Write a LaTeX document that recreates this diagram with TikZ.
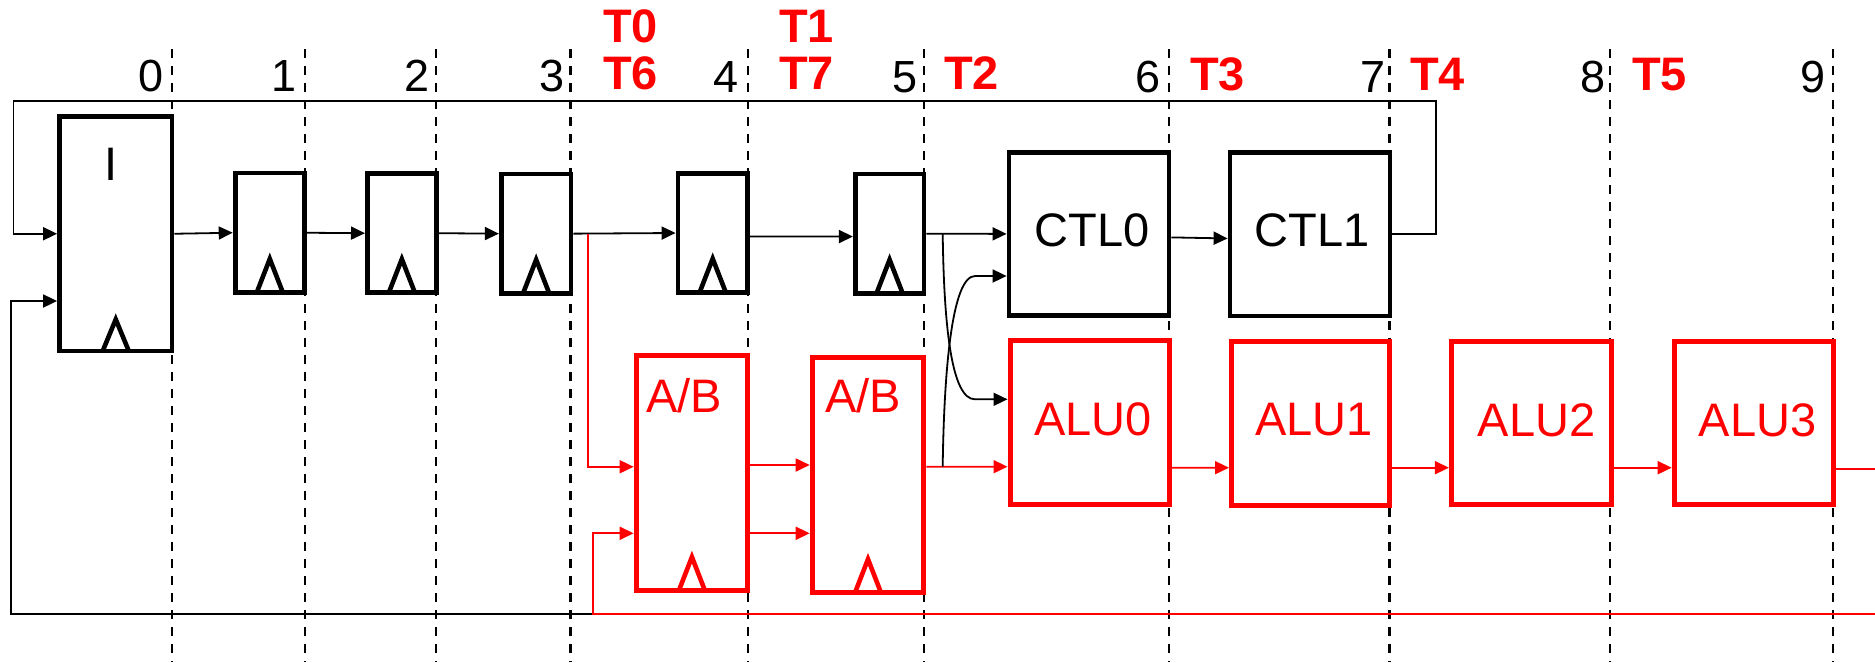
\documentclass[tikz,border=0pt]{standalone}
\usepackage{fontspec}
\setmainfont{Liberation Sans}
\usetikzlibrary{arrows.meta}
\definecolor{rd}{RGB}{255,0,0}
\begin{document}
\begin{tikzpicture}[x=1pt,y=-1pt,
  box/.style={draw=black, line width=4.8pt, rectangle, inner sep=0pt},
  rbox/.style={box, draw=rd, line width=5pt},
  wire/.style={line width=1.8pt},
  arr/.style={wire, -{Triangle[length=14pt,width=13pt]}},
  rarr/.style={arr, draw=rd},
  dsh/.style={line width=2.2pt, dash pattern=on 9pt off 8pt},
  clk/.style={line width=4.6pt, line join=miter},
  num/.style={font=\fontsize{45}{54}\selectfont, anchor=base east, inner sep=0pt},
  tlab/.style={font=\bfseries\fontsize{47}{56}\selectfont, text=rd, anchor=base west, inner sep=0pt},
  lbl/.style={font=\fontsize{47}{56}\selectfont, anchor=base, inner sep=0pt},
  rlbl/.style={lbl, text=rd}]
\useasboundingbox (0,0) rectangle (1875,662);

% dashed cycle boundaries
\foreach \x in {172,305,436,570.5,748,924,1169,1389.5,1610,1833}
  \draw[dsh] (\x,49) -- (\x,662);

% cycle numbers
\node[num] (n0) at (163.5,91.5) {0};
\node[num] (n1) at (297,91.5) {1};
\node[num] (n2) at (429.5,91.5) {2};
\node[num] (n3) at (564.6,91.5) {3};
\node[num] (n4) at (739,92) {4};
\node[num] (n5) at (918,92) {5};
\node[num] (n6) at (1161,92) {6};
\node[num] (n7) at (1385.5,92) {7};
\node[num] (n8) at (1606,92) {8};
\node[num] (n9) at (1826,92) {9};

% thread labels
\node[tlab] (t0) at (603,42.7) {T0};
\node[tlab] (t6) at (603,89.3) {T6};
\node[tlab] (t1) at (779,42.7) {T1};
\node[tlab] (t7) at (779,89.3) {T7};
\node[tlab] (t2) at (944,89.3) {T2};
\node[tlab] (t3) at (1190,90) {T3};
\node[tlab] (t4) at (1410,90) {T4};
\node[tlab] (t5) at (1632,90) {T5};

% black boxes
\node[box, minimum width=112.5pt, minimum height=234.5pt] (I) at (115.75,233.75) {};
\node[box, minimum width=69.4pt, minimum height=119.5pt] (R1) at (269.8,232.75) {};
\node[box, minimum width=68.9pt, minimum height=119pt] (R2) at (401.85,233.2) {};
\node[box, minimum width=69.7pt, minimum height=119.3pt] (R3) at (536.15,233.65) {};
\node[box, minimum width=69.4pt, minimum height=118.6pt] (R4) at (712.7,233) {};
\node[box, minimum width=68.6pt, minimum height=119.3pt] (R5) at (889.6,233.65) {};
\node[box, minimum width=160pt, minimum height=163.2pt] (CTL0) at (1089,233.9) {};
\node[box, minimum width=160pt, minimum height=163.7pt] (CTL1) at (1310,234.15) {};

% red boxes
\node[rbox, minimum width=111.5pt, minimum height=235.5pt] (AB1) at (691.9,472.75) {};
\node[rbox, minimum width=111.6pt, minimum height=235.4pt] (AB2) at (868,475) {};
\node[rbox, minimum width=159pt, minimum height=163.3pt] (ALU0) at (1089.5,422.35) {};
\node[rbox, minimum width=158pt, minimum height=164pt] (ALU1) at (1310.5,423) {};
\node[rbox, minimum width=159.6pt, minimum height=163pt] (ALU2) at (1531.2,422.8) {};
\node[rbox, minimum width=158.8pt, minimum height=162.5pt] (ALU3) at (1753.6,422.75) {};

% box labels
\node[lbl] (lI) at (111,180) {I};
\node[lbl] (lC0) at (1092,246) {CTL0};
\node[lbl] (lC1) at (1312,246.5) {CTL1};
\node[rlbl, anchor=base west] (lAB1) at (646,412.7) {A/B};
\node[rlbl, anchor=base west] (lAB2) at (825,412.7) {A/B};
\node[rlbl] (lA0) at (1093,435) {ALU0};
\node[rlbl] (lA1) at (1314,435) {ALU1};
\node[rlbl] (lA2) at (1536.6,436) {ALU2};
\node[rlbl] (lA3) at (1757.5,436) {ALU3};

% clock triangles
\foreach \n in {R1,R2,R3,R4,R5}
  \draw[clk, shift={(\n.south)}] (-13,-2.5) -- (0,-36) -- (13,-2.5);
\draw[clk, shift={(I.south)}] (-13,-2.5) -- (0,-34) -- (13,-2.5);
\foreach \n in {AB1,AB2}
  \draw[clk, draw=rd, shift={(\n.south)}] (-13,-2.5) -- (0,-36) -- (13,-2.5);

% helper coordinates
\coordinate (tl) at (13.4,101);
\coordinate (tr) at (1436,101);
\coordinate (bl) at (11.2,614);
\coordinate (bm) at (592.8,614);
\coordinate (br) at (1875,614);
\coordinate (j0) at (588,233.5);
\coordinate (j1) at (942.7,233.5);
\coordinate (j2) at (942.7,466.7);
\coordinate (out3) at (1875,469);

% black pipeline
\draw[arr] (CTL1.east) -| (tr) -- (tl) |- (I.west);
\draw[arr] (bm) -- (bl) |- ([yshift=-67.25pt]I.west);
\draw[arr] (I.east) -- (R1.west);
\draw[arr] (R1.east) -- (R2.west);
\draw[arr] (R2.east) -- (R3.west);
\draw[arr] (R3.east) -- (R4.west);
\draw[arr] ([yshift=-3.5pt]R4.east) -- ([yshift=-2.9pt]R5.west);
\draw[arr] (R5.east) -- (CTL0.west);
\draw[arr] ([yshift=-3.5pt]CTL0.east) -- ([yshift=-4.3pt]CTL1.west);

% red datapath
\draw[rarr] (br) -- (bm) |- ([yshift=-60.55pt]AB1.west);
\draw[rarr] (j0) |- ([yshift=6pt]AB1.west);
\draw[rarr] ([yshift=7.75pt]AB1.east) -- ([yshift=10pt]AB2.west);
\draw[rarr] ([yshift=-60.55pt]AB1.east) -- ([yshift=-58.3pt]AB2.west);
\draw[rarr] ([yshift=8.3pt]AB2.east) -- ([yshift=-44.35pt]ALU0.west);
\draw[rarr] ([yshift=-45.35pt]ALU0.east) -- ([yshift=-44.7pt]ALU1.west);
\draw[rarr] ([yshift=-44.7pt]ALU1.east) -- ([yshift=-44.9pt]ALU2.west);
\draw[rarr] ([yshift=-44.9pt]ALU2.east) -- ([yshift=-44.95pt]ALU3.west);
\draw[wire, draw=rd] ([yshift=-46.25pt]ALU3.east) -- (out3);

% crossing curves
\draw[arr] (j1) .. controls (944,330) and (952,399.3) .. (975,399.3) -- ([yshift=23.05pt]ALU0.west);
\draw[arr] (j2) .. controls (944,370) and (952,276) .. (975,276) -- ([yshift=-42.1pt]CTL0.west);
\end{tikzpicture}
\end{document}
